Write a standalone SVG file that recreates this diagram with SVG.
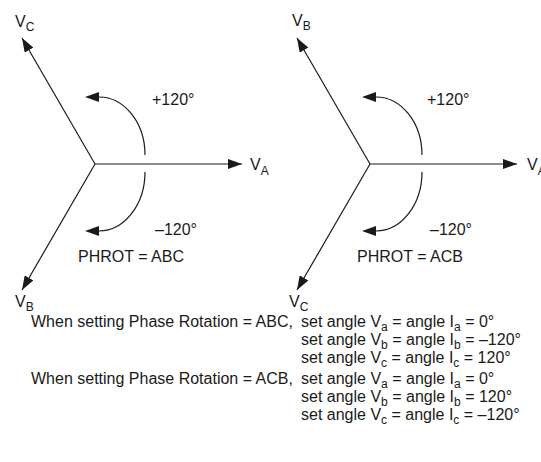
<svg xmlns="http://www.w3.org/2000/svg" width="541" height="462" viewBox="0 0 541 462">
<defs>
<marker id="ah" viewBox="0 0 14 10" refX="14" refY="5" markerWidth="14" markerHeight="10" markerUnits="userSpaceOnUse" orient="auto">
<path d="M0,0 L14,5 L0,10 Z" fill="#1a1a1a"/>
</marker>
<marker id="ahb" viewBox="0 0 14 10" refX="0" refY="5" markerWidth="14" markerHeight="10" markerUnits="userSpaceOnUse" orient="auto">
<path d="M0,0 L14,5 L0,10 Z" fill="#1a1a1a"/>
</marker>
<style>
text{font-family:"Liberation Sans",Arial,sans-serif;font-size:16px;fill:#1a1a1a}
.s{font-size:12px}
.vec{stroke:#1a1a1a;stroke-width:1.2;fill:none;marker-end:url(#ah)}
.arc{stroke:#1a1a1a;stroke-width:1.2;fill:none;marker-end:url(#ahb)}
</style>
</defs>
<rect width="541" height="462" fill="#fff"/>
<g id="connectors">
<line class="vec" x1="95" y1="164" x2="242" y2="164"/>
<line class="vec" x1="95" y1="164" x2="22" y2="38"/>
<line class="vec" x1="95" y1="164" x2="22" y2="290"/>
<path class="arc" d="M145,155 A46,58 0 0 0 99,97"/>
<path class="arc" d="M145,172 A46,59 0 0 1 99,231"/>
<line class="vec" x1="370" y1="164" x2="517" y2="164"/>
<line class="vec" x1="370" y1="164" x2="297" y2="38"/>
<line class="vec" x1="370" y1="164" x2="297" y2="290"/>
<path class="arc" d="M422,155 A46,58 0 0 0 376,97"/>
<path class="arc" d="M422,172 A46,59 0 0 1 376,231"/>
</g>
<g id="left-VC"><text x="15" y="27">V<tspan class="s" dy="4">C</tspan></text></g>
<g id="left-VA"><text x="250" y="170">V<tspan class="s" dy="5">A</tspan></text></g>
<g id="left-VB"><text x="15" y="307">V<tspan class="s" dy="4">B</tspan></text></g>
<g id="left-plus"><text x="152" y="105">+120°</text></g>
<g id="left-minus"><text x="155" y="235">–120°</text></g>
<g id="left-phrot"><text x="78" y="262">PHROT = ABC</text></g>
<g id="right-VB"><text x="292" y="26">V<tspan class="s" dy="4">B</tspan></text></g>
<g id="right-VA"><text x="527" y="170">V<tspan class="s" dy="5">A</tspan></text></g>
<g id="right-VC"><text x="289" y="307">V<tspan class="s" dy="4">C</tspan></text></g>
<g id="right-plus"><text x="427" y="105">+120°</text></g>
<g id="right-minus"><text x="430" y="235">–120°</text></g>
<g id="right-phrot"><text x="357" y="262">PHROT = ACB</text></g>
<g id="notes">
<text x="31" y="327">When setting Phase Rotation = ABC,</text>
<text x="301" y="327">set angle V<tspan class="s" dy="4">a</tspan><tspan dy="-4"> = angle I</tspan><tspan class="s" dy="4">a</tspan><tspan dy="-4"> = 0°</tspan></text>
<text x="301" y="345">set angle V<tspan class="s" dy="4">b</tspan><tspan dy="-4"> = angle I</tspan><tspan class="s" dy="4">b</tspan><tspan dy="-4"> = –120°</tspan></text>
<text x="301" y="363">set angle V<tspan class="s" dy="4">c</tspan><tspan dy="-4"> = angle I</tspan><tspan class="s" dy="4">c</tspan><tspan dy="-4"> = 120°</tspan></text>
<text x="31" y="384">When setting Phase Rotation = ACB,</text>
<text x="301" y="384">set angle V<tspan class="s" dy="4">a</tspan><tspan dy="-4"> = angle I</tspan><tspan class="s" dy="4">a</tspan><tspan dy="-4"> = 0°</tspan></text>
<text x="301" y="402">set angle V<tspan class="s" dy="4">b</tspan><tspan dy="-4"> = angle I</tspan><tspan class="s" dy="4">b</tspan><tspan dy="-4"> = 120°</tspan></text>
<text x="301" y="420">set angle V<tspan class="s" dy="4">c</tspan><tspan dy="-4"> = angle I</tspan><tspan class="s" dy="4">c</tspan><tspan dy="-4"> = –120°</tspan></text>
</g>
</svg>
